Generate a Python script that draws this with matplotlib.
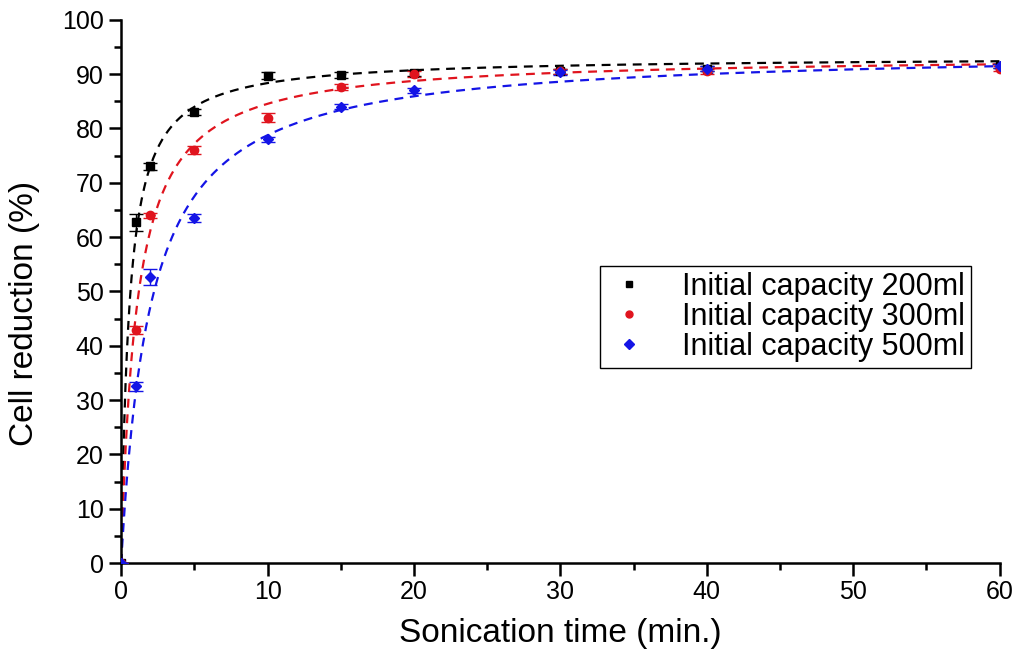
import numpy as np
import matplotlib.pyplot as plt

plt.rcParams['font.family'] = ['Liberation Sans', 'DejaVu Sans']

# measured points
t = [0, 1, 2, 5, 10, 15, 20, 30, 40, 60]
cap200 = [0, 62.7, 73.0, 83.0, 89.7, 89.8, 90.2, 90.5, 91.0, 91.5]
cap300 = [0, 42.9, 64.0, 76.0, 82.0, 87.6, 90.0, 90.5, 90.5, 91.0]
cap500 = [0, 32.5, 52.7, 63.5, 78.0, 84.0, 87.0, 90.3, 91.0, 91.5]
err200 = [0, 1.5, 0.6, 0.6, 0.6, 0.5, 0.5, 0.4, 0.4, 0.4]
err300 = [0, 0.8, 0.5, 0.8, 0.8, 0.5, 0.5, 0.4, 0.4, 0.4]
err500 = [0, 0.8, 1.5, 0.8, 0.5, 0.5, 0.5, 0.4, 0.4, 0.4]

# hyperbolic fit parameters (ymax, half time)
fit200 = (93.2, 0.55)
fit300 = (93.4, 1.05)
fit500 = (94.5, 2.0)

labels = ['Initial capacity 200ml', 'Initial capacity 300ml', 'Initial capacity 500ml']
colors = ['black', '#e0141e', '#1414e6']
markers = ['s', 'o', 'D']

fig = plt.figure(figsize=(10.18, 6.57), dpi=100)
ax = fig.add_axes([0.119, 0.143, 0.863, 0.827])

tt = np.linspace(0, 60, 600)
for y, e, f, lab, c, m in zip([cap200, cap300, cap500], [err200, err300, err500],
                              [fit200, fit300, fit500], labels, colors, markers):
    ax.plot(tt, f[0] * tt / (f[1] + tt), '--', color=c, lw=1.6, dashes=(4, 3))
    ax.errorbar(t, y, yerr=e, fmt=m, color=c, ms=6 if m != 'D' else 5,
                capsize=5, elinewidth=1, label=lab, zorder=3)

ax.set_xlim(0, 60)
ax.set_ylim(0, 100)
ax.set_xticks(range(0, 61, 10))
ax.set_xticks(range(0, 61, 5), minor=True)
ax.set_yticks(range(0, 101, 10))
ax.set_yticks(range(0, 101, 5), minor=True)
ax.spines['top'].set_visible(False)
ax.spines['right'].set_visible(False)
ax.spines['left'].set_linewidth(1.8)
ax.spines['bottom'].set_linewidth(1.8)
ax.tick_params(which='major', length=9, width=1.8, labelsize=18)
ax.tick_params(which='minor', length=5, width=1.8)
ax.set_xlabel('Sonication time (min.)', fontsize=24, labelpad=10)
ax.set_ylabel('Cell reduction (%)', fontsize=24)
ax.yaxis.set_label_coords(-0.092, 0.459)

handles = [plt.Line2D([], [], ls='none', marker=m, color=c, ms=5) for c, m in zip(colors, markers)]
leg = ax.legend(handles, labels, loc='upper left', bbox_to_anchor=(0.545, 0.547),
                fontsize=22, fancybox=False, edgecolor='black', framealpha=1,
                handlelength=1.5, handletextpad=1.0, borderpad=0.2, labelspacing=0.0,
                borderaxespad=0)
leg.get_frame().set_linewidth(1)

fig.savefig('out.png', dpi=100)
